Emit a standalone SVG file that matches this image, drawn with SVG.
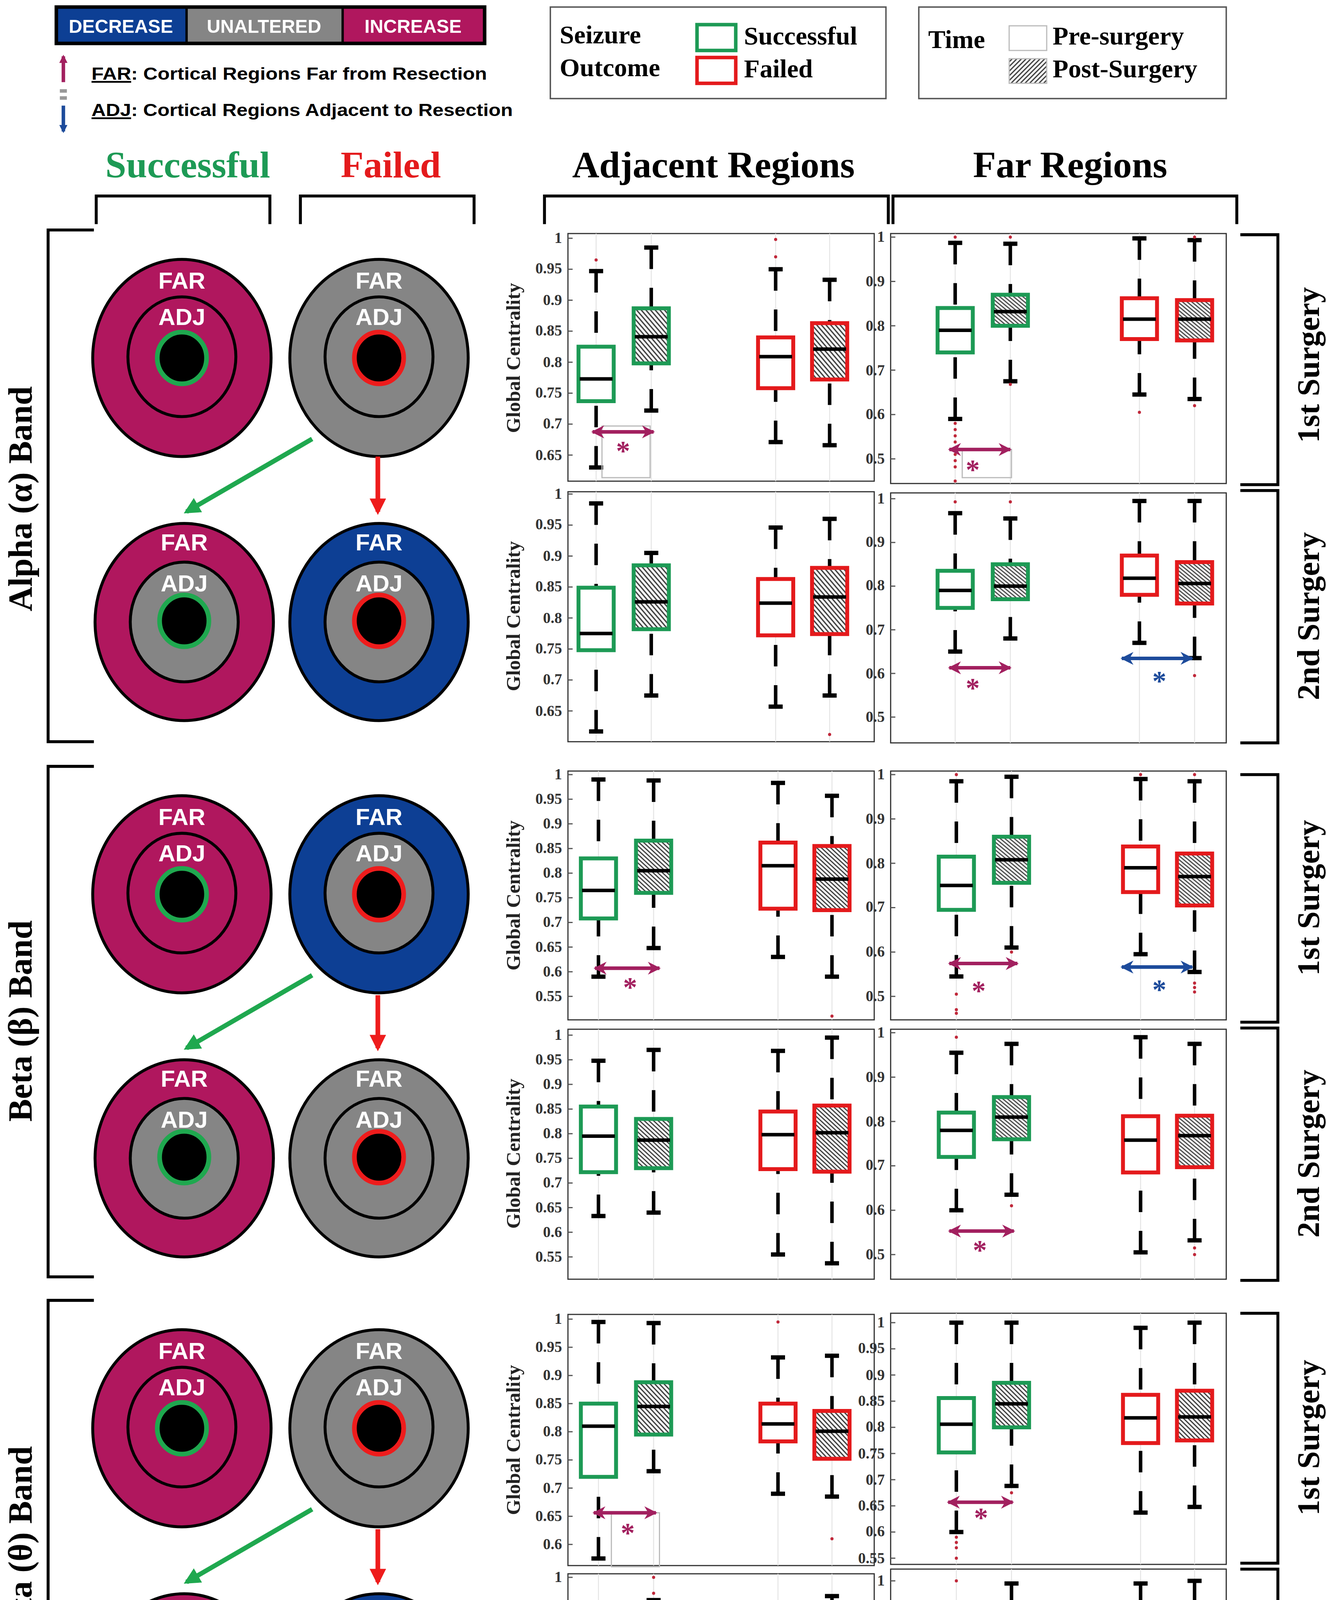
<svg xmlns="http://www.w3.org/2000/svg" width="3395" height="4721" viewBox="0 0 3395 4721">
<style>
.sf{font-family:"Liberation Serif","Times New Roman",serif;font-weight:bold}
.ss{font-family:"Liberation Sans",Arial,sans-serif;font-weight:bold}
.tl{font-family:"Liberation Serif",serif;font-weight:bold;font-size:13px;fill:#333;text-anchor:end}
.yl{font-family:"Liberation Serif",serif;font-weight:bold;font-size:17px;fill:#222;text-anchor:middle}
.frame{fill:none;stroke:#333;stroke-width:1}
.grid{stroke:#e4e4e4;stroke-width:0.8}
.br{fill:none;stroke:#000;stroke-width:2.5}
.g,.r,.wk,.cp,.md,.ol,.tk{vector-effect:non-scaling-stroke}
.g{stroke:#1d9a55;stroke-width:10}
.r{stroke:#e41a1c;stroke-width:10}
.pre{fill:#fff}
.post{fill:url(#hatch)}
.wk{stroke:#000;stroke-width:9;stroke-dasharray:55 48;fill:none}
.cp{stroke:#000;stroke-width:11}
.md{stroke:#000;stroke-width:9}
.ol{stroke:#c0283a;stroke-width:8;stroke-linecap:round;fill:none}
.tk{stroke:#555;stroke-width:3}
.grect{fill:none;stroke:#bbb;stroke-width:1}
.am{stroke:#a2205f;stroke-width:3;marker-start:url(#mM);marker-end:url(#mM)}
.ab{stroke:#1d4b9b;stroke-width:3;marker-start:url(#mB);marker-end:url(#mB)}
.astm{font-family:"Liberation Serif",serif;font-weight:bold;font-size:24px;fill:#a2205f;text-anchor:middle}
.astb{font-family:"Liberation Serif",serif;font-weight:bold;font-size:24px;fill:#1d4b9b;text-anchor:middle}
.ring{stroke:#000;stroke-width:2.5}
.mag{fill:#b0175e}.gry{fill:#858585}.blu{fill:#0d3f94}
.cg{fill:#000;stroke:#1fa84f;stroke-width:4}
.cr{fill:#000;stroke:#ee1c1c;stroke-width:4}
.lab{font-family:"Liberation Sans",Arial,sans-serif;font-weight:bold;font-size:20px;fill:#fff;text-anchor:middle}
.band{font-family:"Liberation Serif",serif;font-weight:bold;font-size:29px;text-anchor:middle}
.surg{font-family:"Liberation Serif",serif;font-weight:bold;font-size:27px;text-anchor:middle}
</style>
<defs>
<pattern id="hatch" patternUnits="userSpaceOnUse" width="2.8" height="2.8" patternTransform="scale(1,2.2) rotate(45)">
<rect width="2.8" height="2.8" fill="#f4f4f4"/><line x1="1.4" y1="0" x2="1.4" y2="2.8" stroke="#3a3a3a" stroke-width="1"/>
</pattern>
<pattern id="hatch2" patternUnits="userSpaceOnUse" width="2.8" height="2.8" patternTransform="rotate(45)">
<rect width="2.8" height="2.8" fill="#f4f4f4"/><line x1="1.4" y1="0" x2="1.4" y2="2.8" stroke="#3a3a3a" stroke-width="1"/>
</pattern>
<marker id="mM" viewBox="0 0 10 10" refX="9" refY="5" markerWidth="11" markerHeight="12" markerUnits="userSpaceOnUse" orient="auto-start-reverse"><path d="M0,0 L10,5 L0,10 L3,5 z" fill="#a2205f"/></marker>
<marker id="mB" viewBox="0 0 10 10" refX="9" refY="5" markerWidth="11" markerHeight="12" markerUnits="userSpaceOnUse" orient="auto-start-reverse"><path d="M0,0 L10,5 L0,10 L3,5 z" fill="#1d4b9b"/></marker>
<marker id="mG" viewBox="0 0 10 10" refX="8" refY="5" markerWidth="14" markerHeight="14" markerUnits="userSpaceOnUse" orient="auto"><path d="M0,0 L10,5 L0,10 z" fill="#1fa84f"/></marker>
<marker id="mR" viewBox="0 0 10 10" refX="8" refY="5" markerWidth="14" markerHeight="14" markerUnits="userSpaceOnUse" orient="auto"><path d="M0,0 L10,5 L0,10 z" fill="#ee1c1c"/></marker>
<marker id="mLM" viewBox="0 0 10 10" refX="8" refY="5" markerWidth="7" markerHeight="8" markerUnits="userSpaceOnUse" orient="auto"><path d="M0,0 L10,5 L0,10 z" fill="#a2205f"/></marker>
<marker id="mLB" viewBox="0 0 10 10" refX="8" refY="5" markerWidth="7" markerHeight="8" markerUnits="userSpaceOnUse" orient="auto"><path d="M0,0 L10,5 L0,10 z" fill="#1d4b9b"/></marker>
</defs>
<rect width="3395" height="4721" fill="#fff"/>
<g transform="scale(3.0044)">

<!-- Legends -->
<g id="legend-change">
<rect x="48" y="6" width="111" height="31" fill="#0d3f94"/>
<rect x="159" y="6" width="133" height="31" fill="#858585"/>
<rect x="292" y="6" width="121" height="31" fill="#b0175e"/>
<rect x="48" y="6" width="365" height="31" fill="none" stroke="#000" stroke-width="3"/>
<line x1="159" y1="6" x2="159" y2="37" stroke="#000" stroke-width="2"/>
<line x1="292" y1="6" x2="292" y2="37" stroke="#000" stroke-width="2"/>
<text class="ss" x="103" y="28" font-size="16" fill="#fff" text-anchor="middle">DECREASE</text>
<text class="ss" x="225" y="28" font-size="16" fill="#fff" text-anchor="middle">UNALTERED</text>
<text class="ss" x="352" y="28" font-size="16" fill="#fff" text-anchor="middle">INCREASE</text>
<line x1="54" y1="70" x2="54" y2="48" stroke="#a2205f" stroke-width="3" marker-end="url(#mLM)"/>
<rect x="51" y="76" width="6" height="3" fill="#999"/><rect x="51" y="82" width="6" height="3" fill="#999"/>
<line x1="54" y1="90" x2="54" y2="112" stroke="#1d4b9b" stroke-width="3" marker-end="url(#mLB)"/>
<text class="ss" x="78" y="68" font-size="15" textLength="337" lengthAdjust="spacingAndGlyphs"><tspan text-decoration="underline">FAR</tspan>: Cortical Regions Far from Resection</text>
<text class="ss" x="78" y="99" font-size="15" textLength="359" lengthAdjust="spacingAndGlyphs"><tspan text-decoration="underline">ADJ</tspan>: Cortical Regions Adjacent to Resection</text>
</g>
<g id="legend-outcome">
<rect x="469" y="6" width="286" height="78" fill="none" stroke="#555" stroke-width="1.2"/>
<text class="sf" x="477" y="37" font-size="22">Seizure</text>
<text class="sf" x="477" y="65" font-size="22">Outcome</text>
<rect x="594" y="21" width="33" height="22" fill="#fff" stroke="#1d9a55" stroke-width="3"/>
<rect x="594" y="49" width="33" height="22" fill="#fff" stroke="#e41a1c" stroke-width="3"/>
<text class="sf" x="634" y="38" font-size="22">Successful</text>
<text class="sf" x="634" y="66" font-size="22">Failed</text>
</g>
<g id="legend-time">
<rect x="783" y="6" width="262" height="78" fill="none" stroke="#555" stroke-width="1.2"/>
<text class="sf" x="791" y="41" font-size="22">Time</text>
<rect x="860" y="22" width="32" height="21" fill="#fff" stroke="#bbb" stroke-width="1"/>
<rect x="860" y="50" width="32" height="21" fill="url(#hatch2)" stroke="#bbb" stroke-width="1"/>
<text class="sf" x="897" y="38" font-size="22">Pre-surgery</text>
<text class="sf" x="897" y="66" font-size="22">Post-Surgery</text>
</g>

<!-- Headers -->
<g id="headers">
<text class="sf" x="160" y="151" font-size="32" fill="#1d9a55" text-anchor="middle">Successful</text>
<text class="sf" x="333" y="151" font-size="32" fill="#e41a1c" text-anchor="middle">Failed</text>
<text class="sf" x="608" y="151" font-size="32" text-anchor="middle">Adjacent Regions</text>
<text class="sf" x="912" y="151" font-size="32" text-anchor="middle">Far Regions</text>
<path class="br" d="M82 191V167H230V191 M256 191V167H404V191 M464 191V167H757V191 M761 191V167H1054V191"/>
</g>

<!-- Band brackets and labels -->
<g id="band-labels">
<path class="br" d="M80 196H41V632H80 M80 653H41V1088H80 M80 1108H41V1545H80"/>
<text class="band" transform="translate(27 425) rotate(-90)">Alpha (α) Band</text>
<text class="band" transform="translate(27 870) rotate(-90)">Beta (β) Band</text>
<text class="band" transform="translate(27 1326) rotate(-90)">Theta (θ) Band</text>
<path class="br" d="M1057 200H1089V413H1057 M1057 418H1089V633H1057 M1057 660H1089V871H1057 M1057 876H1089V1091H1057 M1057 1119H1089V1332H1057 M1057 1337H1089V1551H1057"/>
<text class="surg" transform="translate(1124 311) rotate(-90)">1st Surgery</text>
<text class="surg" transform="translate(1124 525) rotate(-90)">2nd Surgery</text>
<text class="surg" transform="translate(1124 765) rotate(-90)">1st Surgery</text>
<text class="surg" transform="translate(1124 983) rotate(-90)">2nd Surgery</text>
<text class="surg" transform="translate(1124 1225) rotate(-90)">1st Surgery</text>
<text class="surg" transform="translate(1124 1444) rotate(-90)">2nd Surgery</text>
</g>

<!-- Circle nodes -->
<g id="alpha-s1"><ellipse class="ring mag" cx="155" cy="305" rx="76" ry="84"/><ellipse class="ring mag" cx="155" cy="304" rx="46" ry="51"/><ellipse class="cg" cx="155" cy="305" rx="21" ry="22"/><text class="lab" x="155" y="246">FAR</text><text class="lab" x="155" y="277">ADJ</text></g>
<g id="alpha-f1"><ellipse class="ring gry" cx="323" cy="305" rx="76" ry="84"/><ellipse class="ring gry" cx="323" cy="304" rx="46" ry="51"/><ellipse class="cr" cx="323" cy="305" rx="21" ry="22"/><text class="lab" x="323" y="246">FAR</text><text class="lab" x="323" y="277">ADJ</text></g>
<g id="alpha-s2"><ellipse class="ring mag" cx="157" cy="530" rx="76" ry="84"/><ellipse class="ring gry" cx="157" cy="530" rx="46" ry="51"/><ellipse class="cg" cx="157" cy="529" rx="21" ry="22"/><text class="lab" x="157" y="469">FAR</text><text class="lab" x="157" y="504">ADJ</text></g>
<g id="alpha-f2"><ellipse class="ring blu" cx="323" cy="530" rx="76" ry="84"/><ellipse class="ring gry" cx="323" cy="530" rx="46" ry="51"/><ellipse class="cr" cx="323" cy="529" rx="21" ry="22"/><text class="lab" x="323" y="469">FAR</text><text class="lab" x="323" y="504">ADJ</text></g>

<g id="beta-s1"><ellipse class="ring mag" cx="155" cy="762" rx="76" ry="84"/><ellipse class="ring mag" cx="155" cy="761" rx="46" ry="51"/><ellipse class="cg" cx="155" cy="762" rx="21" ry="22"/><text class="lab" x="155" y="703">FAR</text><text class="lab" x="155" y="734">ADJ</text></g>
<g id="beta-f1"><ellipse class="ring blu" cx="323" cy="762" rx="76" ry="84"/><ellipse class="ring gry" cx="323" cy="761" rx="46" ry="51"/><ellipse class="cr" cx="323" cy="762" rx="21" ry="22"/><text class="lab" x="323" y="703">FAR</text><text class="lab" x="323" y="734">ADJ</text></g>
<g id="beta-s2"><ellipse class="ring mag" cx="157" cy="987" rx="76" ry="84"/><ellipse class="ring gry" cx="157" cy="987" rx="46" ry="51"/><ellipse class="cg" cx="157" cy="986" rx="21" ry="22"/><text class="lab" x="157" y="926">FAR</text><text class="lab" x="157" y="961">ADJ</text></g>
<g id="beta-f2"><ellipse class="ring gry" cx="323" cy="987" rx="76" ry="84"/><ellipse class="ring gry" cx="323" cy="987" rx="46" ry="51"/><ellipse class="cr" cx="323" cy="986" rx="21" ry="22"/><text class="lab" x="323" y="926">FAR</text><text class="lab" x="323" y="961">ADJ</text></g>

<g id="theta-s1"><ellipse class="ring mag" cx="155" cy="1217" rx="76" ry="84"/><ellipse class="ring mag" cx="155" cy="1216" rx="46" ry="51"/><ellipse class="cg" cx="155" cy="1217" rx="21" ry="22"/><text class="lab" x="155" y="1158">FAR</text><text class="lab" x="155" y="1189">ADJ</text></g>
<g id="theta-f1"><ellipse class="ring gry" cx="323" cy="1217" rx="76" ry="84"/><ellipse class="ring gry" cx="323" cy="1216" rx="46" ry="51"/><ellipse class="cr" cx="323" cy="1217" rx="21" ry="22"/><text class="lab" x="323" y="1158">FAR</text><text class="lab" x="323" y="1189">ADJ</text></g>
<g id="theta-s2"><ellipse class="ring mag" cx="157" cy="1442" rx="76" ry="84"/><ellipse class="ring mag" cx="157" cy="1442" rx="46" ry="51"/><ellipse class="cg" cx="157" cy="1441" rx="21" ry="22"/><text class="lab" x="157" y="1381">FAR</text><text class="lab" x="157" y="1416">ADJ</text></g>
<g id="theta-f2"><ellipse class="ring blu" cx="323" cy="1442" rx="76" ry="84"/><ellipse class="ring gry" cx="323" cy="1442" rx="46" ry="51"/><ellipse class="cr" cx="323" cy="1441" rx="21" ry="22"/><text class="lab" x="323" y="1381">FAR</text><text class="lab" x="323" y="1416">ADJ</text></g>

<g id="connectors">
<line x1="266" y1="374" x2="159" y2="436" stroke="#1fa84f" stroke-width="4" marker-end="url(#mG)"/>
<line x1="322" y1="389" x2="322" y2="436" stroke="#ee1c1c" stroke-width="4" marker-end="url(#mR)"/>
<line x1="266" y1="831" x2="159" y2="893" stroke="#1fa84f" stroke-width="4" marker-end="url(#mG)"/>
<line x1="322" y1="848" x2="322" y2="893" stroke="#ee1c1c" stroke-width="4" marker-end="url(#mR)"/>
<line x1="266" y1="1286" x2="159" y2="1348" stroke="#1fa84f" stroke-width="4" marker-end="url(#mG)"/>
<line x1="322" y1="1303" x2="322" y2="1348" stroke="#ee1c1c" stroke-width="4" marker-end="url(#mR)"/>
</g>

<!-- ===== ALPHA 1st adj ===== -->
<g id="plot-alpha1-adj">
<rect class="frame" x="484" y="199" width="261" height="211"/>
<path class="grid" d="M508 199V410M555 199V410M661 199V410M707 199V410"/>
<g>
<text class="tl" x="479" y="207">1</text><text class="tl" x="479" y="233">0.95</text><text class="tl" x="479" y="260">0.9</text><text class="tl" x="479" y="286">0.85</text><text class="tl" x="479" y="313">0.8</text><text class="tl" x="479" y="339">0.75</text><text class="tl" x="479" y="365">0.7</text><text class="tl" x="479" y="392">0.65</text>
</g>
<text class="yl" transform="translate(443 305) rotate(-90)">Global Centrality</text>
<g transform="matrix(1 0 0 -0.528 0 731)">
<path class="tk" d="M484 1000h4M484 950h4M484 900h4M484 850h4M484 800h4M484 750h4M484 700h4M484 650h4"/>
<path class="wk" d="M508 630V737M508 947V825"/><path class="cp" d="M502 630h12M502 947h12"/><rect class="g pre" x="493" y="737" width="30" height="88"/><path class="md" d="M494 773h28"/><path class="ol" d="M508 965h0"/>
<path class="wk" d="M555 722V798M555 985V887"/><path class="cp" d="M549 722h12M549 985h12"/><rect class="g post" x="540" y="798" width="30" height="89"/><path class="md" d="M541 841h28"/>
<path class="wk" d="M661 671V758M661 950V840"/><path class="cp" d="M655 671h12M655 950h12"/><rect class="r pre" x="646" y="758" width="30" height="82"/><path class="md" d="M647 809h28"/><path class="ol" d="M661 970h0M661 998h0"/>
<path class="wk" d="M707 666V772M707 933V863"/><path class="cp" d="M701 666h12M701 933h12"/><rect class="r post" x="692" y="772" width="30" height="91"/><path class="md" d="M693 821h28"/>
</g>
<rect class="grect" x="513" y="363" width="41" height="44"/>
<line class="am" x1="505" y1="368" x2="557" y2="368"/>
<text class="astm" x="531" y="392">*</text>
</g>

<!-- ===== ALPHA 1st far ===== -->
<g id="plot-alpha1-far">
<rect class="frame" x="759" y="199" width="286" height="213"/>
<path class="grid" d="M814 199V412M861 199V412M971 199V412M1018 199V412"/>
<text class="tl" x="754" y="206">1</text><text class="tl" x="754" y="244">0.9</text><text class="tl" x="754" y="282">0.8</text><text class="tl" x="754" y="320">0.7</text><text class="tl" x="754" y="357">0.6</text><text class="tl" x="754" y="395">0.5</text>
<g transform="matrix(1 0 0 -0.378 0 580)">
<path class="tk" d="M759 1000h4M759 900h4M759 800h4M759 700h4M759 600h4M759 500h4"/>
<path class="wk" d="M814 590V740M814 987V840"/><path class="cp" d="M808 590h12M808 987h12"/><rect class="g pre" x="799" y="740" width="30" height="100"/><path class="md" d="M800 790h28"/><path class="ol" d="M814 1000h0M814 580h0M814 566h0M814 552h0M814 538h0M814 524h0M814 510h0M814 496h0M814 482h0M814 450h0"/>
<path class="wk" d="M861 675V800M861 985V870"/><path class="cp" d="M855 675h12M855 985h12"/><rect class="g post" x="846" y="800" width="30" height="70"/><path class="md" d="M847 832h28"/><path class="ol" d="M861 668h0M861 1000h0"/>
<path class="wk" d="M971 645V770M971 997V862"/><path class="cp" d="M965 645h12M965 997h12"/><rect class="r pre" x="956" y="770" width="30" height="92"/><path class="md" d="M957 815h28"/><path class="ol" d="M971 605h0"/>
<path class="wk" d="M1018 635V767M1018 993V858"/><path class="cp" d="M1012 635h12M1012 993h12"/><rect class="r post" x="1003" y="767" width="30" height="91"/><path class="md" d="M1004 815h28"/><path class="ol" d="M1018 620h0M1018 1000h0"/>
</g>
<rect class="grect" x="820" y="383" width="42" height="24"/>
<line class="am" x1="809" y1="383" x2="861" y2="383"/>
<text class="astm" x="829" y="408">*</text>
</g>

<!-- ===== ALPHA 2nd adj ===== -->
<g id="plot-alpha2-adj">
<rect class="frame" x="484" y="419" width="261" height="213"/>
<path class="grid" d="M508 419V632M555 419V632M661 419V632M707 419V632"/>
<text class="tl" x="479" y="425">1</text><text class="tl" x="479" y="451">0.95</text><text class="tl" x="479" y="478">0.9</text><text class="tl" x="479" y="504">0.85</text><text class="tl" x="479" y="531">0.8</text><text class="tl" x="479" y="557">0.75</text><text class="tl" x="479" y="583">0.7</text><text class="tl" x="479" y="610">0.65</text>
<text class="yl" transform="translate(443 525) rotate(-90)">Global Centrality</text>
<g transform="matrix(1 0 0 -0.528 0 949)">
<path class="tk" d="M484 1000h4M484 950h4M484 900h4M484 850h4M484 800h4M484 750h4M484 700h4M484 650h4"/>
<path class="wk" d="M508 617V748M508 985V849"/><path class="cp" d="M502 617h12M502 985h12"/><rect class="g pre" x="493" y="748" width="30" height="101"/><path class="md" d="M494 775h28"/>
<path class="wk" d="M555 675V782M555 905V885"/><path class="cp" d="M549 675h12M549 905h12"/><rect class="g post" x="540" y="782" width="30" height="103"/><path class="md" d="M541 826h28"/>
<path class="wk" d="M661 657V772M661 946V863"/><path class="cp" d="M655 657h12M655 946h12"/><rect class="r pre" x="646" y="772" width="30" height="91"/><path class="md" d="M647 824h28"/>
<path class="wk" d="M707 675V774M707 960V881"/><path class="cp" d="M701 675h12M701 960h12"/><rect class="r post" x="692" y="774" width="30" height="107"/><path class="md" d="M693 834h28"/><path class="ol" d="M707 612h0"/>
</g>
</g>

<!-- ===== ALPHA 2nd far ===== -->
<g id="plot-alpha2-far">
<rect class="frame" x="759" y="420" width="286" height="213"/>
<path class="grid" d="M814 420V633M861 420V633M971 420V633M1018 420V633"/>
<text class="tl" x="754" y="429">1</text><text class="tl" x="754" y="466">0.9</text><text class="tl" x="754" y="503">0.8</text><text class="tl" x="754" y="541">0.7</text><text class="tl" x="754" y="578">0.6</text><text class="tl" x="754" y="615">0.5</text>
<g transform="matrix(1 0 0 -0.372 0 797)">
<path class="tk" d="M759 1000h4M759 900h4M759 800h4M759 700h4M759 600h4M759 500h4"/>
<path class="wk" d="M814 650V750M814 967V835"/><path class="cp" d="M808 650h12M808 967h12"/><rect class="g pre" x="799" y="750" width="30" height="85"/><path class="md" d="M800 790h28"/><path class="ol" d="M814 993h0"/>
<path class="wk" d="M861 680V770M861 955V850"/><path class="cp" d="M855 680h12M855 955h12"/><rect class="g post" x="846" y="770" width="30" height="80"/><path class="md" d="M847 800h28"/><path class="ol" d="M861 993h0"/>
<path class="wk" d="M971 670V780M971 995V870"/><path class="cp" d="M965 670h12M965 995h12"/><rect class="r pre" x="956" y="780" width="30" height="90"/><path class="md" d="M957 818h28"/>
<path class="wk" d="M1018 635V760M1018 995V855"/><path class="cp" d="M1012 635h12M1012 995h12"/><rect class="r post" x="1003" y="760" width="30" height="95"/><path class="md" d="M1004 806h28"/><path class="ol" d="M1018 595h0"/>
</g>
<line class="am" x1="809" y1="569" x2="861" y2="569"/>
<text class="astm" x="829" y="594">*</text>
<line class="ab" x1="956" y1="561" x2="1016" y2="561"/>
<text class="astb" x="988" y="588">*</text>
</g>

<!-- ===== BETA 1st adj ===== -->
<g id="plot-beta1-adj">
<rect class="frame" x="484" y="657" width="261" height="212"/>
<path class="grid" d="M510 657V869M557 657V869M663 657V869M709 657V869"/>
<text class="tl" x="479" y="664">1</text><text class="tl" x="479" y="685">0.95</text><text class="tl" x="479" y="706">0.9</text><text class="tl" x="479" y="727">0.85</text><text class="tl" x="479" y="748">0.8</text><text class="tl" x="479" y="769">0.75</text><text class="tl" x="479" y="790">0.7</text><text class="tl" x="479" y="811">0.65</text><text class="tl" x="479" y="832">0.6</text><text class="tl" x="479" y="853">0.55</text>
<text class="yl" transform="translate(443 763) rotate(-90)">Global Centrality</text>
<g transform="matrix(1 0 0 -0.42 0 1080)">
<path class="tk" d="M484 1000h4M484 950h4M484 900h4M484 850h4M484 800h4M484 750h4M484 700h4M484 650h4M484 600h4M484 550h4"/>
<path class="wk" d="M510 590V708M510 990V830"/><path class="cp" d="M504 590h12M504 990h12"/><rect class="g pre" x="495" y="708" width="30" height="122"/><path class="md" d="M496 765h28"/>
<path class="wk" d="M557 648V760M557 988V866"/><path class="cp" d="M551 648h12M551 988h12"/><rect class="g post" x="542" y="760" width="30" height="106"/><path class="md" d="M543 805h28"/>
<path class="wk" d="M663 630V728M663 983V862"/><path class="cp" d="M657 630h12M657 983h12"/><rect class="r pre" x="648" y="728" width="30" height="134"/><path class="md" d="M649 815h28"/>
<path class="wk" d="M709 590V725M709 957V855"/><path class="cp" d="M703 590h12M703 957h12"/><rect class="r post" x="694" y="725" width="30" height="130"/><path class="md" d="M695 788h28"/><path class="ol" d="M709 510h0"/>
</g>
<line class="am" x1="507" y1="825" x2="562" y2="825"/>
<text class="astm" x="537" y="849">*</text>
</g>

<!-- ===== BETA 1st far ===== -->
<g id="plot-beta1-far">
<rect class="frame" x="759" y="657" width="286" height="212"/>
<path class="grid" d="M815 657V869M862 657V869M972 657V869M1018 657V869"/>
<text class="tl" x="754" y="664">1</text><text class="tl" x="754" y="702">0.9</text><text class="tl" x="754" y="740">0.8</text><text class="tl" x="754" y="777">0.7</text><text class="tl" x="754" y="815">0.6</text><text class="tl" x="754" y="853">0.5</text>
<g transform="matrix(1 0 0 -0.378 0 1038)">
<path class="tk" d="M759 1000h4M759 900h4M759 800h4M759 700h4M759 600h4M759 500h4"/>
<path class="wk" d="M815 545V695M815 985V815"/><path class="cp" d="M809 545h12M809 985h12"/><rect class="g pre" x="800" y="695" width="30" height="120"/><path class="md" d="M801 750h28"/><path class="ol" d="M815 1000h0M815 505h0M815 470h0M815 462h0"/>
<path class="wk" d="M862 610V756M862 995V860"/><path class="cp" d="M856 610h12M856 995h12"/><rect class="g post" x="847" y="756" width="30" height="104"/><path class="md" d="M848 808h28"/><path class="ol" d="M862 600h0"/>
<path class="wk" d="M972 595V735M972 990V838"/><path class="cp" d="M966 595h12M966 990h12"/><rect class="r pre" x="957" y="735" width="30" height="103"/><path class="md" d="M958 790h28"/><path class="ol" d="M972 1000h0"/>
<path class="wk" d="M1018 555V705M1018 985V822"/><path class="cp" d="M1012 555h12M1012 985h12"/><rect class="r post" x="1003" y="705" width="30" height="117"/><path class="md" d="M1004 770h28"/><path class="ol" d="M1018 1000h0M1018 530h0M1018 520h0M1018 510h0"/>
</g>
<line class="am" x1="809" y1="821" x2="867" y2="821"/>
<text class="astm" x="834" y="852">*</text>
<line class="ab" x1="956" y1="824" x2="1016" y2="824"/>
<text class="astb" x="988" y="851">*</text>
</g>

<!-- ===== BETA 2nd adj ===== -->
<g id="plot-beta2-adj">
<rect class="frame" x="484" y="877" width="261" height="213"/>
<path class="grid" d="M510 877V1090M557 877V1090M663 877V1090M709 877V1090"/>
<text class="tl" x="479" y="886">1</text><text class="tl" x="479" y="907">0.95</text><text class="tl" x="479" y="928">0.9</text><text class="tl" x="479" y="949">0.85</text><text class="tl" x="479" y="970">0.8</text><text class="tl" x="479" y="991">0.75</text><text class="tl" x="479" y="1012">0.7</text><text class="tl" x="479" y="1033">0.65</text><text class="tl" x="479" y="1054">0.6</text><text class="tl" x="479" y="1075">0.55</text>
<text class="yl" transform="translate(443 983) rotate(-90)">Global Centrality</text>
<g transform="matrix(1 0 0 -0.42 0 1302)">
<path class="tk" d="M484 1000h4M484 950h4M484 900h4M484 850h4M484 800h4M484 750h4M484 700h4M484 650h4M484 600h4M484 550h4"/>
<path class="wk" d="M510 633V722M510 948V855"/><path class="cp" d="M504 633h12M504 948h12"/><rect class="g pre" x="495" y="722" width="30" height="133"/><path class="md" d="M496 795h28"/>
<path class="wk" d="M557 640V730M557 970V830"/><path class="cp" d="M551 640h12M551 970h12"/><rect class="g post" x="542" y="730" width="30" height="100"/><path class="md" d="M543 787h28"/>
<path class="wk" d="M663 555V728M663 968V845"/><path class="cp" d="M657 555h12M657 968h12"/><rect class="r pre" x="648" y="728" width="30" height="117"/><path class="md" d="M649 798h28"/>
<path class="wk" d="M709 537V723M709 995V857"/><path class="cp" d="M703 537h12M703 995h12"/><rect class="r post" x="694" y="723" width="30" height="134"/><path class="md" d="M695 802h28"/>
</g>
</g>

<!-- ===== BETA 2nd far ===== -->
<g id="plot-beta2-far">
<rect class="frame" x="759" y="877" width="286" height="213"/>
<path class="grid" d="M815 877V1090M862 877V1090M972 877V1090M1018 877V1090"/>
<text class="tl" x="754" y="884">1</text><text class="tl" x="754" y="922">0.9</text><text class="tl" x="754" y="960">0.8</text><text class="tl" x="754" y="997">0.7</text><text class="tl" x="754" y="1035">0.6</text><text class="tl" x="754" y="1073">0.5</text>
<g transform="matrix(1 0 0 -0.378 0 1258)">
<path class="tk" d="M759 1000h4M759 900h4M759 800h4M759 700h4M759 600h4M759 500h4"/>
<path class="wk" d="M815 600V720M815 955V820"/><path class="cp" d="M809 600h12M809 955h12"/><rect class="g pre" x="800" y="720" width="30" height="100"/><path class="md" d="M801 780h28"/><path class="ol" d="M815 990h0"/>
<path class="wk" d="M862 635V760M862 975V855"/><path class="cp" d="M856 635h12M856 975h12"/><rect class="g post" x="847" y="760" width="30" height="95"/><path class="md" d="M848 810h28"/><path class="ol" d="M862 610h0"/>
<path class="wk" d="M972 505V685M972 990V812"/><path class="cp" d="M966 505h12M966 990h12"/><rect class="r pre" x="957" y="685" width="30" height="127"/><path class="md" d="M958 758h28"/>
<path class="wk" d="M1018 532V697M1018 975V813"/><path class="cp" d="M1012 532h12M1012 975h12"/><rect class="r post" x="1003" y="697" width="30" height="116"/><path class="md" d="M1004 768h28"/><path class="ol" d="M1018 515h0M1018 500h0"/>
</g>
<line class="am" x1="809" y1="1049" x2="864" y2="1049"/>
<text class="astm" x="835" y="1073">*</text>
</g>

<!-- ===== THETA 1st adj ===== -->
<g id="plot-theta1-adj">
<rect class="frame" x="484" y="1120" width="261" height="214"/>
<path class="grid" d="M510 1120V1334M557 1120V1334M663 1120V1334M709 1120V1334"/>
<text class="tl" x="479" y="1128">1</text><text class="tl" x="479" y="1152">0.95</text><text class="tl" x="479" y="1176">0.9</text><text class="tl" x="479" y="1200">0.85</text><text class="tl" x="479" y="1224">0.8</text><text class="tl" x="479" y="1248">0.75</text><text class="tl" x="479" y="1272">0.7</text><text class="tl" x="479" y="1296">0.65</text><text class="tl" x="479" y="1320">0.6</text>
<text class="yl" transform="translate(443 1227) rotate(-90)">Global Centrality</text>
<g transform="matrix(1 0 0 -0.48 0 1604)">
<path class="tk" d="M484 1000h4M484 950h4M484 900h4M484 850h4M484 800h4M484 750h4M484 700h4M484 650h4M484 600h4"/>
<path class="wk" d="M510 575V720M510 995V850"/><path class="cp" d="M504 575h12M504 995h12"/><rect class="g pre" x="495" y="720" width="30" height="130"/><path class="md" d="M496 810h28"/>
<path class="wk" d="M557 730V795M557 993V888"/><path class="cp" d="M551 730h12M551 993h12"/><rect class="g post" x="542" y="795" width="30" height="93"/><path class="md" d="M543 845h28"/>
<path class="wk" d="M663 690V783M663 932V850"/><path class="cp" d="M657 690h12M657 932h12"/><rect class="r pre" x="648" y="783" width="30" height="67"/><path class="md" d="M649 814h28"/><path class="ol" d="M663 995h0"/>
<path class="wk" d="M709 685V752M709 935V837"/><path class="cp" d="M703 685h12M703 935h12"/><rect class="r post" x="694" y="752" width="30" height="85"/><path class="md" d="M695 801h28"/><path class="ol" d="M709 610h0"/>
</g>
<rect class="grect" x="521" y="1289" width="41" height="46"/>
<line class="am" x1="506" y1="1289" x2="559" y2="1289"/>
<text class="astm" x="535" y="1314">*</text>
</g>

<!-- ===== THETA 1st far ===== -->
<g id="plot-theta1-far">
<rect class="frame" x="759" y="1119" width="286" height="214"/>
<path class="grid" d="M815 1119V1333M862 1119V1333M972 1119V1333M1018 1119V1333"/>
<text class="tl" x="754" y="1131">1</text><text class="tl" x="754" y="1153">0.95</text><text class="tl" x="754" y="1176">0.9</text><text class="tl" x="754" y="1198">0.85</text><text class="tl" x="754" y="1220">0.8</text><text class="tl" x="754" y="1243">0.75</text><text class="tl" x="754" y="1265">0.7</text><text class="tl" x="754" y="1287">0.65</text><text class="tl" x="754" y="1309">0.6</text><text class="tl" x="754" y="1332">0.55</text>
<g transform="matrix(1 0 0 -0.446 0 1573)">
<path class="tk" d="M759 1000h4M759 950h4M759 900h4M759 850h4M759 800h4M759 750h4M759 700h4M759 650h4M759 600h4M759 550h4"/>
<path class="wk" d="M815 600V752M815 1000V856"/><path class="cp" d="M809 600h12M809 1000h12"/><rect class="g pre" x="800" y="752" width="30" height="104"/><path class="md" d="M801 806h28"/><path class="ol" d="M815 590h0M815 580h0M815 570h0M815 550h0"/>
<path class="wk" d="M862 688V800M862 1000V885"/><path class="cp" d="M856 688h12M856 1000h12"/><rect class="g post" x="847" y="800" width="30" height="85"/><path class="md" d="M848 845h28"/><path class="ol" d="M862 675h0"/>
<path class="wk" d="M972 637V770M972 990V862"/><path class="cp" d="M966 637h12M966 990h12"/><rect class="r pre" x="957" y="770" width="30" height="92"/><path class="md" d="M958 818h28"/>
<path class="wk" d="M1018 648V775M1018 1000V870"/><path class="cp" d="M1012 648h12M1012 1000h12"/><rect class="r post" x="1003" y="775" width="30" height="95"/><path class="md" d="M1004 820h28"/>
</g>
<line class="am" x1="808" y1="1280" x2="863" y2="1280"/>
<text class="astm" x="836" y="1301">*</text>
</g>

<!-- ===== THETA 2nd adj ===== -->
<g id="plot-theta2-adj">
<rect class="frame" x="484" y="1341" width="261" height="214"/>
<path class="grid" d="M510 1341V1555M557 1341V1555M663 1341V1555M709 1341V1555"/>
<text class="tl" x="479" y="1348">1</text><text class="tl" x="479" y="1372">0.95</text><text class="tl" x="479" y="1397">0.9</text><text class="tl" x="479" y="1421">0.85</text><text class="tl" x="479" y="1445">0.8</text><text class="tl" x="479" y="1469">0.75</text><text class="tl" x="479" y="1494">0.7</text><text class="tl" x="479" y="1518">0.65</text><text class="tl" x="479" y="1542">0.6</text>
<text class="yl" transform="translate(443 1448) rotate(-90)">Global Centrality</text>
<g transform="matrix(1 0 0 -0.485 0 1829)">
<path class="tk" d="M484 1000h4M484 950h4M484 900h4M484 850h4M484 800h4M484 750h4M484 700h4M484 650h4M484 600h4"/>
<path class="wk" d="M510 730V762M510 887V820"/><path class="cp" d="M504 730h12M504 887h12"/><rect class="g pre" x="495" y="762" width="30" height="58"/><path class="md" d="M496 790h28"/><path class="ol" d="M510 918h0"/>
<path class="wk" d="M557 720V800M557 960V868"/><path class="cp" d="M551 720h12M551 960h12"/><rect class="g post" x="542" y="800" width="30" height="68"/><path class="md" d="M543 832h28"/><path class="ol" d="M557 972h0M557 1000h0"/>
<path class="wk" d="M663 688V785M663 938V872"/><path class="cp" d="M657 688h12M657 938h12"/><rect class="r pre" x="648" y="785" width="30" height="87"/><path class="md" d="M649 830h28"/>
<path class="wk" d="M709 680V758M709 967V857"/><path class="cp" d="M703 680h12M703 967h12"/><rect class="r post" x="694" y="758" width="30" height="99"/><path class="md" d="M695 817h28"/>
</g>
<rect class="grect" x="518" y="1490" width="42" height="44"/>
<line class="am" x1="506" y1="1490" x2="559" y2="1490"/>
<text class="astm" x="532" y="1514">*</text>
</g>

<!-- ===== THETA 2nd far ===== -->
<g id="plot-theta2-far">
<rect class="frame" x="759" y="1337" width="286" height="216"/>
<path class="grid" d="M815 1337V1553M862 1337V1553M972 1337V1553M1018 1337V1553"/>
<text class="tl" x="754" y="1351">1</text><text class="tl" x="754" y="1373">0.95</text><text class="tl" x="754" y="1396">0.9</text><text class="tl" x="754" y="1418">0.85</text><text class="tl" x="754" y="1441">0.8</text><text class="tl" x="754" y="1463">0.75</text><text class="tl" x="754" y="1485">0.7</text><text class="tl" x="754" y="1508">0.65</text><text class="tl" x="754" y="1530">0.6</text><text class="tl" x="754" y="1553">0.55</text>
<g transform="matrix(1 0 0 -0.448 0 1795)">
<path class="tk" d="M759 1000h4M759 950h4M759 900h4M759 850h4M759 800h4M759 750h4M759 700h4M759 650h4M759 600h4M759 550h4"/>
<path class="wk" d="M815 645V748M815 920V818"/><path class="cp" d="M809 645h12M809 920h12"/><rect class="g pre" x="800" y="748" width="30" height="70"/><path class="md" d="M801 785h28"/><path class="ol" d="M815 935h0M815 942h0M815 1000h0"/>
<path class="wk" d="M862 688V785M862 995V872"/><path class="cp" d="M856 688h12M856 995h12"/><rect class="g post" x="847" y="785" width="30" height="87"/><path class="md" d="M848 820h28"/>
<path class="wk" d="M972 683V787M972 995V877"/><path class="cp" d="M966 683h12M966 995h12"/><rect class="r pre" x="957" y="787" width="30" height="90"/><path class="md" d="M958 830h28"/>
<path class="wk" d="M1018 632V765M1018 1000V870"/><path class="cp" d="M1012 632h12M1012 1000h12"/><rect class="r post" x="1003" y="765" width="30" height="105"/><path class="md" d="M1004 820h28"/>
</g>
<rect class="grect" x="822" y="1526" width="41" height="43"/>
<line class="am" x1="810" y1="1526" x2="864" y2="1526"/>
<text class="astm" x="838" y="1551">*</text>
<line class="ab" x1="956" y1="1505" x2="1016" y2="1505"/>
<text class="astb" x="988" y="1530">*</text>
</g>

</g>
</svg>
